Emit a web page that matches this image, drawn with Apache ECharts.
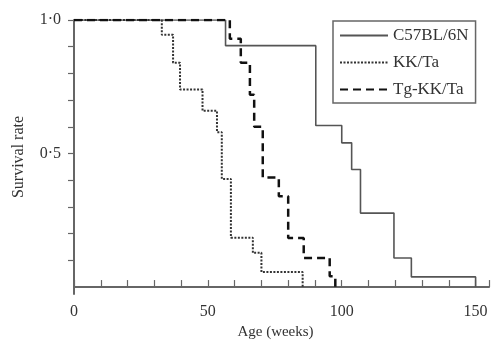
<!DOCTYPE html>
<html>
<head>
<meta charset="utf-8">
<script src="https://cdn.jsdelivr.net/npm/echarts@6/dist/echarts.min.js"></script>
<style>html,body{margin:0;padding:0;background:#fff;}#c{width:500px;height:350px;}</style>
</head>
<body>
<div id="c"></div>
<script>
// Survival curves: [age in weeks, survival rate] at each step
const seriesNames = ['C57BL/6N', 'KK/Ta', 'Tg-KK/Ta'];
const c57 = [[0,1.0],[56.6,0.904],[90.3,0.605],[100,0.54],[103.7,0.44],[107,0.277],[119.5,0.109],[126,0.038],[150,0]];
const kkta = [[0,1.0],[32.8,0.945],[37,0.84],[39.6,0.74],[48,0.66],[53.4,0.58],[55.2,0.405],[58.6,0.185],[66.8,0.128],[70,0.056],[85.4,0]];
const tgkk = [[0,1.0],[58.2,0.93],[62.3,0.84],[65.7,0.72],[67.3,0.6],[70.5,0.41],[76.5,0.34],[80,0.184],[85.8,0.109],[95.5,0.04],[97.6,0]];
const xLabels = [0, 50, 100, 150];
const yLabels = [0.5, 1.0];
const yTicks = [0.1,0.2,0.3,0.4,0.5,0.6,0.7,0.8,0.9,1.0];

const serif = 'Liberation Serif';
const chart = echarts.init(document.getElementById('c'));
chart.setOption({
  animation: false,
  grid: {left: 74, right: 11, top: 20, bottom: 56},
  legend: {
    orient: 'vertical', left: 333, top: 21,
    padding: [6, 7, 5, 6],
    borderColor: '#666', borderWidth: 1.5,
    itemWidth: 48, itemHeight: 14, itemGap: 10,
    itemStyle: {opacity: 0},
    textStyle: {fontFamily: serif, fontSize: 17, color: '#333'},
    data: seriesNames
  },
  xAxis: {
    type: 'value', min: 0, max: 155, interval: 10,
    name: 'Age (weeks)', nameLocation: 'middle', nameGap: 31,
    nameTextStyle: {fontFamily: serif, fontSize: 15, color: '#333', padding: [0, 12, 0, 0]},
    axisLine: {lineStyle: {color: '#666', width: 2}},
    axisTick: {inside: true, length: 7, lineStyle: {color: '#666', width: 1.2}},
    axisLabel: {
      margin: 10, fontFamily: serif, fontSize: 16, color: '#333',
      formatter: v => xLabels.indexOf(v) >= 0 ? String(v) : ''
    },
    splitLine: {show: false}
  },
  yAxis: {
    type: 'value', min: -0.026, max: 1.0,
    name: 'Survival rate', nameLocation: 'middle', nameGap: 47,
    nameTextStyle: {fontFamily: serif, fontSize: 16, color: '#333'},
    axisLine: {show: true, lineStyle: {color: '#666', width: 2}},
    axisTick: {show: true, length: 6, customValues: yTicks, lineStyle: {color: '#666', width: 1.2}},
    axisLabel: {
      margin: 13, fontFamily: serif, fontSize: 16, color: '#333',
      customValues: yLabels,
      formatter: v => v.toFixed(1).replace('.', '\u00b7')
    },
    splitLine: {show: false}
  },
  series: [
    {name: seriesNames[0], type: 'line', step: 'end', symbol: 'none', data: c57,
     lineStyle: {color: '#555', width: 1.6, type: 'solid'}, itemStyle: {color: '#555'}},
    {name: seriesNames[1], type: 'line', step: 'end', symbol: 'none', data: kkta,
     lineStyle: {color: '#333', width: 2, type: [2, 1.5]}, itemStyle: {color: '#333'}},
    {name: seriesNames[2], type: 'line', step: 'end', symbol: 'none', data: tgkk,
     lineStyle: {color: '#111', width: 2.5, type: [8, 5]}, itemStyle: {color: '#111'}}
  ]
});
</script>
</body>
</html>
